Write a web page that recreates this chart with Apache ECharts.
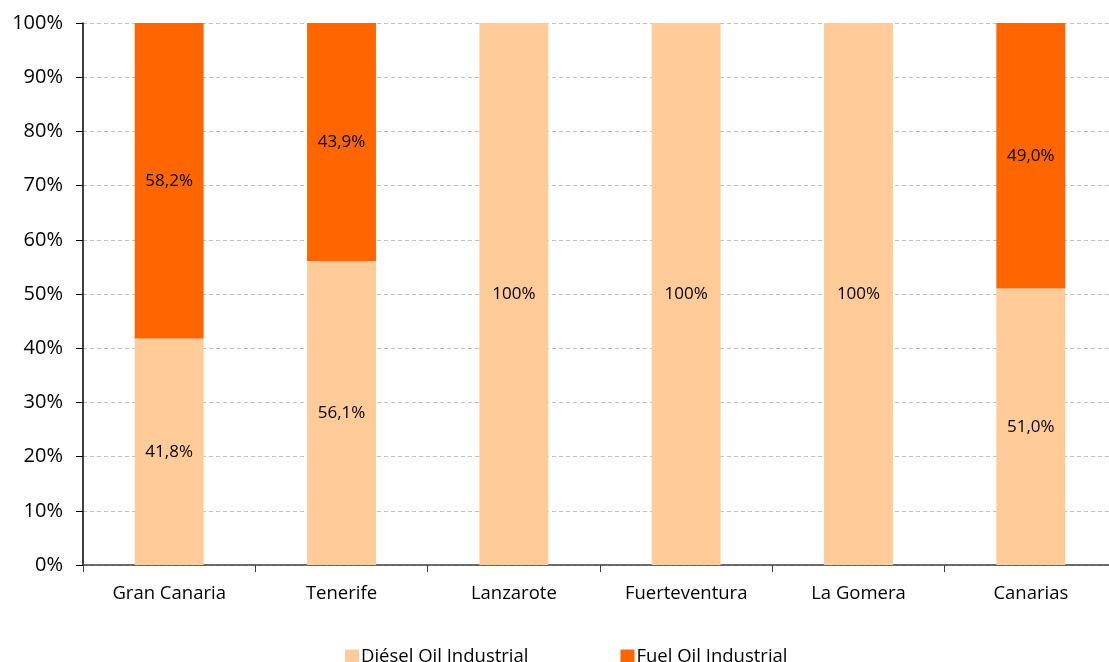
<!DOCTYPE html>
<html>
<head>
<meta charset="utf-8">
<script src="https://cdn.jsdelivr.net/npm/echarts@6/dist/echarts.min.js"></script>
<style>
  html, body { margin: 0; padding: 0; background: #fff; overflow: hidden; }
  #chart { width: 1124px; height: 662px; }
</style>
</head>
<body>
<div id="chart"></div>
<script>
// Share of industrial fuel types per island
const categories = ['Gran Canaria', 'Tenerife', 'Lanzarote', 'Fuerteventura', 'La Gomera', 'Canarias'];
const dieselValues = [41.8, 56.1, 100, 100, 100, 51.0];
const fuelValues = [58.2, 43.9, 0, 0, 0, 49.0];
const yTicks = [0, 10, 20, 30, 40, 50, 60, 70, 80, 90, 100];

const FONT = '"Open Sans", "Noto Sans", sans-serif';

function pctLabel(p) {
  const v = p.value;
  if (!v) return '';
  if (v === 100) return '100%';
  return v.toFixed(1).replace('.', ',') + '%';
}

const chart = echarts.init(document.getElementById('chart'));
chart.setOption({
  animation: false,
  grid: { left: 83, top: 23, width: 1034, height: 542, containLabel: false },
  legend: {
    top: 642,
    left: 340,
    itemWidth: 14,
    itemHeight: 14,
    itemGap: 92,
    icon: 'rect',
    textStyle: { fontFamily: FONT, fontSize: 18.5, color: '#000', padding: [0, 0, 0, -3] },
    data: ['Diésel Oil Industrial', 'Fuel Oil Industrial']
  },
  xAxis: {
    type: 'category',
    data: categories,
    axisLine: { lineStyle: { color: '#404040', width: 1.5 } },
    axisTick: { show: true, alignWithLabel: false, length: 7, lineStyle: { color: '#404040' } },
    axisLabel: { fontFamily: FONT, fontSize: 18.5, color: '#000', margin: 19 }
  },
  yAxis: {
    type: 'value',
    min: yTicks[0],
    max: yTicks[yTicks.length - 1],
    interval: 10,
    axisLine: { show: true, lineStyle: { color: '#000', width: 1.5 } },
    axisTick: { show: true, length: 7, lineStyle: { color: '#000' } },
    axisLabel: { fontFamily: FONT, fontSize: 20, color: '#000', margin: 20, formatter: '{value}%' },
    splitLine: { lineStyle: { color: '#C0C0C0', type: [4, 3] } }
  },
  series: [
    {
      name: 'Diésel Oil Industrial',
      type: 'bar',
      stack: 'total',
      barWidth: '40%',
      data: dieselValues,
      itemStyle: { color: '#FFCC99' },
      label: { show: true, position: 'inside', fontFamily: FONT, fontSize: 17, color: '#000', formatter: pctLabel }
    },
    {
      name: 'Fuel Oil Industrial',
      type: 'bar',
      stack: 'total',
      barWidth: '40%',
      data: fuelValues,
      itemStyle: { color: '#FF6600' },
      label: { show: true, position: 'inside', fontFamily: FONT, fontSize: 17, color: '#000', formatter: pctLabel }
    }
  ]
});
</script>
</body>
</html>
